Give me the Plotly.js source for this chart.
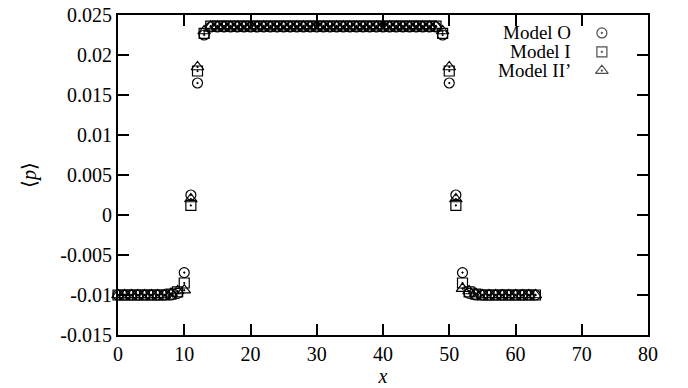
<!DOCTYPE html>
<html>
<head>
<meta charset="utf-8">
<script src="https://cdn.plot.ly/plotly-3.0.1.min.js"></script>
<style>html,body{margin:0;padding:0;background:#fff;}#chart{width:688px;height:388px;}</style>
</head>
<body>
<div id="chart"></div>
<script>
const xs = [0,1,2,3,4,5,6,7,8,9,10,11,12,13,14,15,16,17,18,19,20,21,22,23,24,25,26,27,28,29,30,31,32,33,34,35,36,37,38,39,40,41,42,43,44,45,46,47,48,49,50,51,52,53,54,55,56,57,58,59,60,61,62,63];

const modelO = [-0.0100,-0.0100,-0.0100,-0.0100,-0.0100,-0.0100,-0.0100,-0.0100,-0.0100,-0.0098,-0.0072,0.0025,0.0165,0.0225,0.0235,0.0235,0.0235,0.0235,0.0235,0.0235,0.0235,0.0235,0.0235,0.0235,0.0235,0.0235,0.0235,0.0235,0.0235,0.0235,0.0235,0.0235,0.0235,0.0235,0.0235,0.0235,0.0235,0.0235,0.0235,0.0235,0.0235,0.0235,0.0235,0.0235,0.0235,0.0235,0.0235,0.0235,0.0235,0.0225,0.0165,0.0025,-0.0072,-0.0098,-0.0100,-0.0100,-0.0100,-0.0100,-0.0100,-0.0100,-0.0100,-0.0100,-0.0100,-0.0100];

const modelI = [-0.0100,-0.0100,-0.0100,-0.0100,-0.0100,-0.0100,-0.0100,-0.0100,-0.0099,-0.0096,-0.0085,0.0012,0.0180,0.0227,0.0236,0.0236,0.0236,0.0236,0.0236,0.0236,0.0236,0.0236,0.0236,0.0236,0.0236,0.0236,0.0236,0.0236,0.0236,0.0236,0.0236,0.0236,0.0236,0.0236,0.0236,0.0236,0.0236,0.0236,0.0236,0.0236,0.0236,0.0236,0.0236,0.0236,0.0236,0.0236,0.0236,0.0236,0.0236,0.0227,0.0180,0.0012,-0.0085,-0.0096,-0.0099,-0.0100,-0.0100,-0.0100,-0.0100,-0.0100,-0.0100,-0.0100,-0.0100,-0.0100];

const modelII = [-0.0100,-0.0100,-0.0100,-0.0100,-0.0100,-0.0100,-0.0100,-0.0100,-0.0098,-0.0095,-0.0094,0.0020,0.0185,0.0230,0.0236,0.0236,0.0236,0.0236,0.0236,0.0236,0.0236,0.0236,0.0236,0.0236,0.0236,0.0236,0.0236,0.0236,0.0236,0.0236,0.0236,0.0236,0.0236,0.0236,0.0236,0.0236,0.0236,0.0236,0.0236,0.0236,0.0236,0.0236,0.0236,0.0236,0.0236,0.0236,0.0236,0.0236,0.0236,0.0230,0.0185,0.0020,-0.0092,-0.0095,-0.0098,-0.0100,-0.0100,-0.0100,-0.0100,-0.0100,-0.0100,-0.0100,-0.0100,-0.0100];

const seriesNames = ['Model O', 'Model I', 'Model II\u2019'];
const yTickVals = [-0.015,-0.01,-0.005,0,0.005,0.01,0.015,0.02,0.025];
const yTickText = ['-0.015','-0.01','-0.005','0','0.005','0.01','0.015','0.02','0.025'];
const xTickVals = [0,10,20,30,40,50,60,70,80];

const FONT = 'Liberation Serif';
const symbols = ['circle-open-dot','square-open-dot','triangle-up-open-dot'];
const sizes = [10, 10, 11];
const allY = [modelO, modelI, modelII];

const traces = allY.map((ys, i) => ({
  type: 'scatter', mode: 'markers', x: xs, y: ys, name: seriesNames[i],
  marker: {symbol: symbols[i], size: sizes[i], color: '#000', line: {color: '#000', width: 1.2}},
  showlegend: false, cliponaxis: false
}));

// hand-made legend (symbols to the right of the text, like the reference)
const legY = [0.944, 0.885, 0.826];
traces.push({
  type: 'scatter', mode: 'markers', xaxis: 'x2', yaxis: 'y2',
  x: [0.913, 0.913, 0.913], y: legY, showlegend: false, hoverinfo: 'skip',
  marker: {symbol: symbols, size: sizes, color: '#000', line: {color: '#000', width: 1.2}}
});

const annotations = seriesNames.map((n, i) => ({
  xref: 'paper', yref: 'paper', x: 0.856, y: legY[i], xanchor: 'right', yanchor: 'middle',
  text: n, showarrow: false, borderpad: 0, font: {family: FONT, size: 19, color: '#000'}
}));

const axisCommon = {
  showgrid: false, zeroline: false, showline: true, linecolor: '#000', linewidth: 2,
  ticks: 'inside', ticklen: 11, tickwidth: 2, tickcolor: '#000', mirror: 'ticks',
  tickfont: {family: FONT, size: 20, color: '#000'}
};

const layout = {
  width: 688, height: 388,
  margin: {l: 118, r: 40, t: 15, b: 53},
  paper_bgcolor: '#fff', plot_bgcolor: '#fff',
  showlegend: false,
  font: {family: FONT, size: 20, color: '#000'},
  xaxis: Object.assign({}, axisCommon, {
    range: [0, 80], tickvals: xTickVals, ticktext: xTickVals.map(String),
    title: {text: '<i>x</i>', font: {family: FONT, size: 20, color: '#000'}, standoff: 5}
  }),
  yaxis: Object.assign({}, axisCommon, {
    range: [-0.015, 0.025], tickvals: yTickVals, ticktext: yTickText,
    title: {text: '\u27E8<i>p</i>\u27E9', font: {family: FONT, size: 20, color: '#000'}, standoff: 18}
  }),
  xaxis2: {overlaying: 'x', range: [0, 1], visible: false, fixedrange: true},
  yaxis2: {overlaying: 'y', range: [0, 1], visible: false, fixedrange: true},
  annotations: annotations
};

Plotly.newPlot('chart', traces, layout, {displayModeBar: false, staticPlot: true});
</script>
</body>
</html>
